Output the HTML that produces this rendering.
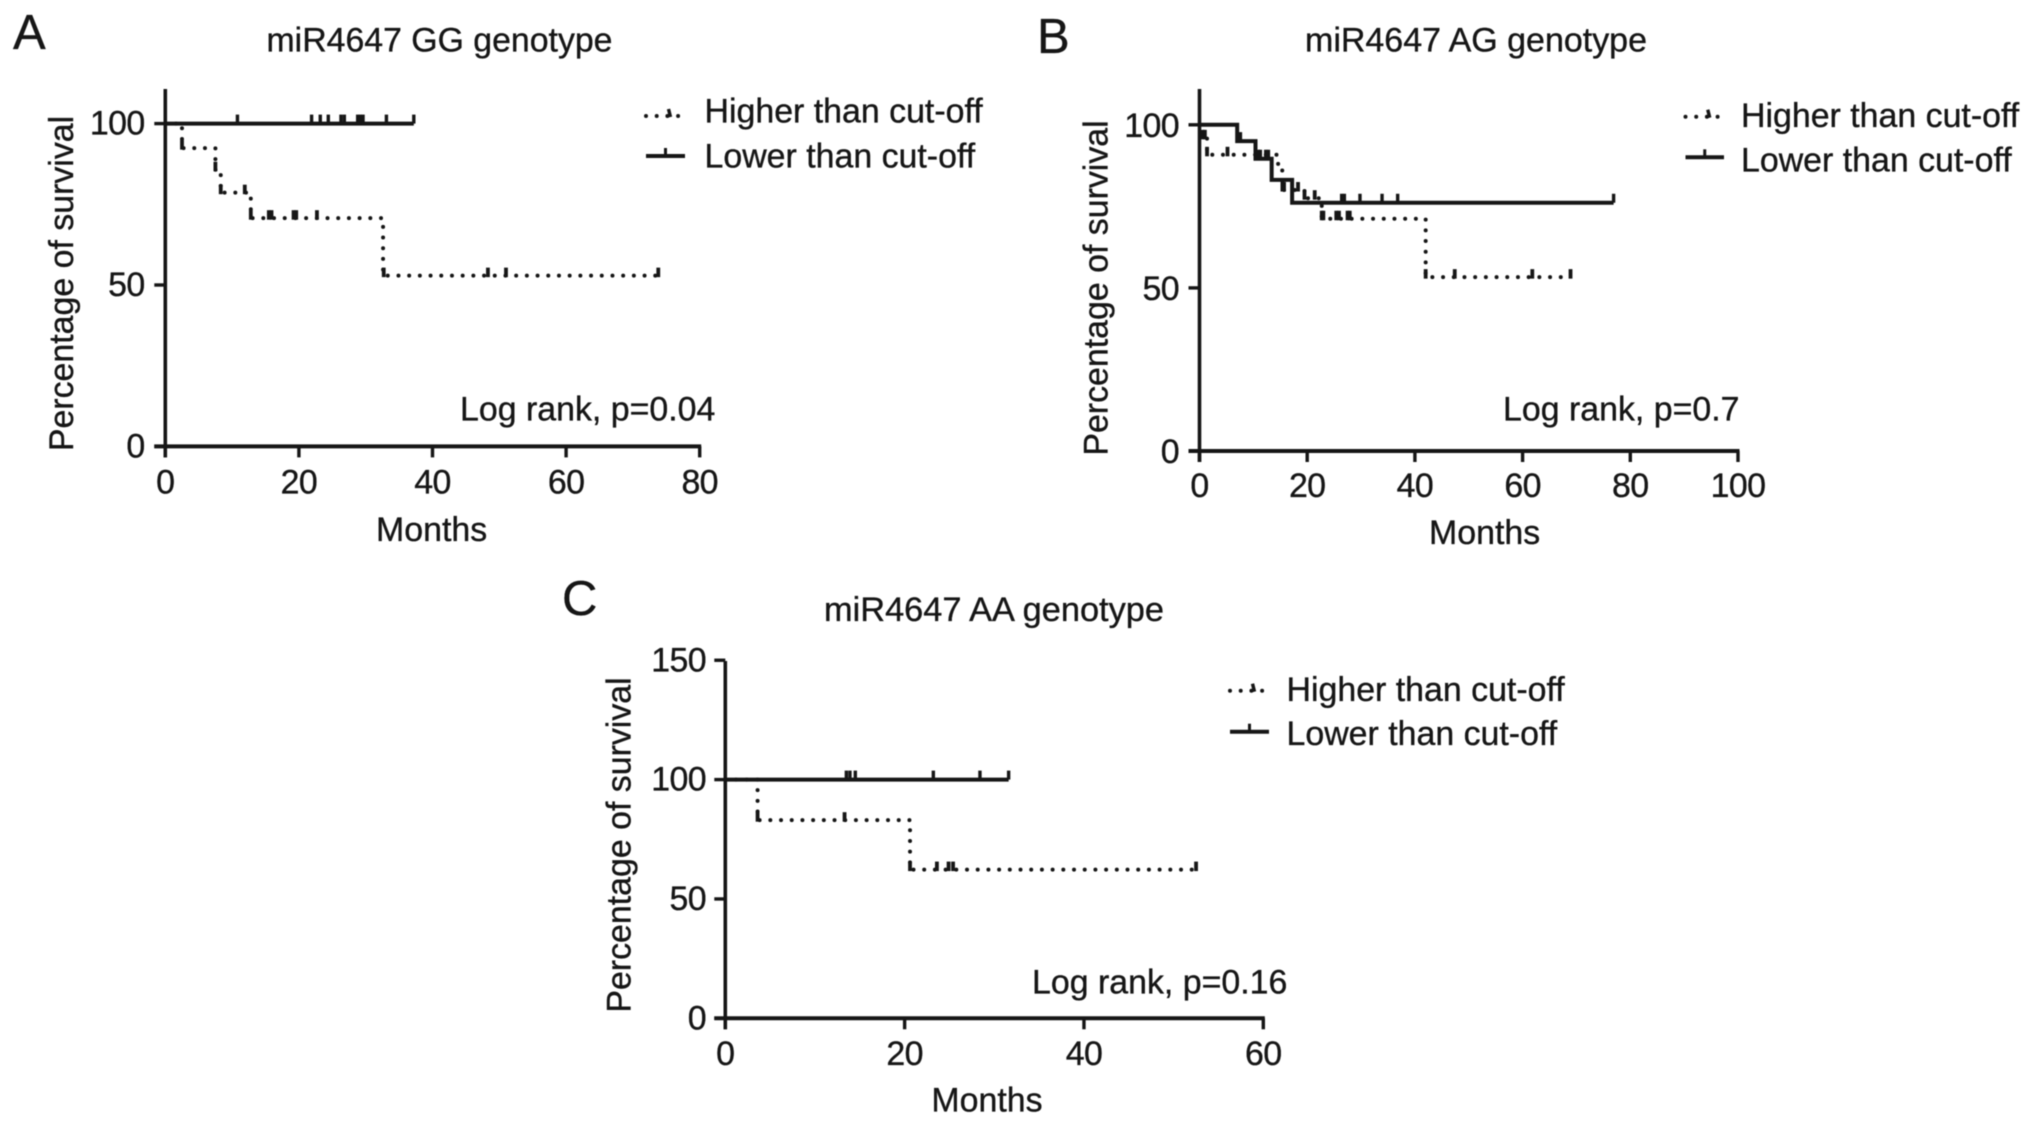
<!DOCTYPE html>
<html lang="en">
<head>
<meta charset="utf-8">
<title>miR4647 survival by genotype</title>
<style>
html,body{margin:0;padding:0;background:#fff;width:2032px;height:1125px;overflow:hidden}
svg{display:block;filter:blur(0.65px)}
text{font-family:"Liberation Sans",Arial,sans-serif;fill:#161616;stroke:#161616;stroke-width:0.35px;font-size:33.9px}
.letter{font-size:49px}
.tick-label{letter-spacing:-0.6px}
</style>
</head>
<body>
<svg id="figure" xmlns="http://www.w3.org/2000/svg" width="2032" height="1125" viewBox="0 0 2032 1125">
  <rect width="2032" height="1125" fill="#fff"/>

  <text class="letter" x="13" y="49">A</text>
  <text x="266.5" y="51.5" textLength="346" lengthAdjust="spacingAndGlyphs">miR4647 GG genotype</text>
  <text transform="translate(73,283.5) rotate(-90)" text-anchor="middle">Percentage of survival</text>
  <text x="431.6" y="541" text-anchor="middle">Months</text>
  <text x="460" y="420.7">Log rank, p=0.04</text>
  <text x="704.5" y="122.5">Higher than cut-off</text>
  <text x="704.5" y="167.3">Lower than cut-off</text>

  <text class="letter" x="1037" y="53">B</text>
  <text x="1305" y="51.5" textLength="342" lengthAdjust="spacingAndGlyphs">miR4647 AG genotype</text>
  <text transform="translate(1107.5,288) rotate(-90)" text-anchor="middle">Percentage of survival</text>
  <text x="1484.6" y="544" text-anchor="middle">Months</text>
  <text x="1503" y="420.7">Log rank, p=0.7</text>
  <text x="1741" y="127">Higher than cut-off</text>
  <text x="1741" y="171.7">Lower than cut-off</text>

  <text class="letter" x="562" y="615">C</text>
  <text x="824" y="620.8" textLength="340" lengthAdjust="spacingAndGlyphs">miR4647 AA genotype</text>
  <text transform="translate(630.5,845) rotate(-90)" text-anchor="middle">Percentage of survival</text>
  <text x="987" y="1111.7" text-anchor="middle">Months</text>
  <text x="1032" y="993.3">Log rank, p=0.16</text>
  <text x="1286.5" y="701">Higher than cut-off</text>
  <text x="1286.5" y="745">Lower than cut-off</text>
</svg>
<script>
// Panel A data (months / percent survival)
const aXTicks = [0, 20, 40, 60, 80];
const aYTicks = [0, 50, 100];
const aHighTimes = [0, 2.5, 7.5, 8.3, 12.8, 32.6, 73.9];
const aHighSurvival = [100, 92.4, 85.7, 78.6, 70.7, 52.9, 52.9];
const aHighCensor = [2.5, 7.5, 8.3, 11.9, 12.8, 15.5, 15.9, 19.2, 19.6, 22.7, 32.7, 48.3, 51, 73.8];
const aLowTimes = [0, 37.2];
const aLowSurvival = [100, 100];
const aLowCensor = [10.8, 21.9, 23.2, 24.4, 26.3, 26.8, 28.8, 29.2, 29.6, 33.1, 37.2];

// Panel B data
const bXTicks = [0, 20, 40, 60, 80, 100];
const bYTicks = [0, 50, 100];
const bHighTimes = [0, 0.6, 1.4, 14.6, 15.4, 19.5, 22.7, 42, 68.9];
const bHighSurvival = [100, 96, 90.8, 86, 80, 77.5, 71.2, 53.3, 53.3];
const bHighCensor = [0.6, 1, 1.4, 5.2, 15.4, 15.7, 18.3, 19.5, 21.4, 22.7, 23, 25.4, 25.9, 27.5, 27.9, 42, 47.4, 61.8, 68.9];
const bLowTimes = [0, 7, 10.4, 13.4, 17.2, 76.9];
const bLowSurvival = [100, 95, 89.6, 83.1, 76.1, 76.1];
const bLowCensor = [7, 7.6, 10.9, 11.3, 12.3, 12.8, 26.4, 26.9, 29.8, 33.9, 36.8, 76.9];

// Panel C data
const cXTicks = [0, 20, 40, 60];
const cYTicks = [0, 50, 100, 150];
const cHighTimes = [0, 3.6, 20.6, 52.5];
const cHighSurvival = [100, 83, 62.3, 62.3];
const cHighCensor = [3.6, 13.3, 20.6, 23.6, 24.9, 25.4, 52.5];
const cLowTimes = [0, 31.6];
const cLowSurvival = [100, 100];
const cLowCensor = [13.5, 13.9, 14.5, 23.2, 28.4, 31.6];

const NS = 'http://www.w3.org/2000/svg';
const root = document.getElementById('figure');
const INK = '#161616';

function addLine(x1, y1, x2, y2, w, name) {
  const el = document.createElementNS(NS, 'line');
  el.setAttribute('x1', x1);
  el.setAttribute('y1', y1);
  el.setAttribute('x2', x2);
  el.setAttribute('y2', y2);
  el.setAttribute('stroke', INK);
  el.setAttribute('stroke-width', w);
  
  
  root.appendChild(el);
  return el;
}

function addLabel(x, y, str, anchor, name) {
  const el = document.createElementNS(NS, 'text');
  el.setAttribute('x', x);
  el.setAttribute('y', y);
  el.setAttribute('text-anchor', anchor);
  el.setAttribute('class', 'tick-label');
  el.textContent = str;
  
  
  root.appendChild(el);
  return el;
}

function addStepPath(d, dotted, name) {
  const el = document.createElementNS(NS, 'path');
  el.setAttribute('d', d);
  el.setAttribute('fill', 'none');
  el.setAttribute('stroke', INK);
  if (dotted) {
    el.setAttribute('stroke-width', '4');
    el.setAttribute('stroke-linecap', 'round');
    el.setAttribute('stroke-dasharray', '0 10.7');
  } else {
    el.setAttribute('stroke-width', '4');
    el.setAttribute('stroke-linejoin', 'miter');
  }
  
  
  root.appendChild(el);
  return el;
}

function levelAt(times, values, t) {
  let v = values[0];
  for (let i = 0; i < times.length; i++) {
    if (times[i] <= t) v = values[i];
  }
  return v;
}

function stepD(times, values, sx, sy) {
  let d = 'M' + sx(times[0]) + ' ' + sy(values[0]);
  for (let i = 1; i < times.length; i++) {
    d += ' H' + sx(times[i]) + ' V' + sy(values[i]);
  }
  return d;
}

function drawPanel(p) {
  const xMax = p.xTicks[p.xTicks.length - 1];
  const sx = m => p.x0 + m * (p.x1 - p.x0) / xMax;
  const sy = v => p.y0 + v * (p.y100 - p.y0) / 100;

  addLine(p.x0, p.top, p.x0, p.y0 + 11, 3.6, p.id + '-y-axis-line');
  addLine(p.x0 - 11, p.y0, p.x1 + 1.5, p.y0, 4, p.id + '-x-axis-line');

  p.yTicks.forEach(v => {
    addLine(p.x0 - 11, sy(v), p.x0, sy(v), 3.4, p.id + '-y-tick-' + v);
    addLabel(p.yLabelRight, sy(v) + p.yLabelDrop, String(v), 'end', p.id + '-y-tick-label-' + v);
  });
  p.xTicks.forEach(v => {
    addLine(sx(v), p.y0, sx(v), p.y0 + 11, 3.4, p.id + '-x-tick-' + v);
    addLabel(sx(v), p.xLabelY, String(v), 'middle', p.id + '-x-tick-label-' + v);
  });

  addStepPath(stepD(p.highT, p.highS, sx, sy), true, p.id + '-higher-curve');
  p.highC.forEach(t => {
    const y = sy(levelAt(p.highT, p.highS, t));
    addLine(sx(t), y - 8, sx(t), y + 1.5, 3.8, p.id + '-higher-censor-mark');
  });

  addStepPath(stepD(p.lowT, p.lowS, sx, sy), false, p.id + '-lower-curve');
  p.lowC.forEach(t => {
    const y = sy(levelAt(p.lowT, p.lowS, t));
    addLine(sx(t), y - 9, sx(t), y, 3.4, p.id + '-lower-censor-mark');
  });

  // legend samples
  const lg = p.legend;
  addStepPath('M' + lg.x1 + ' ' + lg.yHigh + ' H' + lg.x2, true, p.id + '-legend-higher-sample');
  addLine((lg.x1 + lg.x2) / 2 + 3, lg.yHigh - 7, (lg.x1 + lg.x2) / 2 + 5, lg.yHigh + 1, 3.4, p.id + '-legend-higher-censor');
  addLine(lg.x1, lg.yLow, lg.x2, lg.yLow, 4, p.id + '-legend-lower-sample');
  addLine((lg.x1 + lg.x2) / 2, lg.yLow - 8, (lg.x1 + lg.x2) / 2, lg.yLow, 3, p.id + '-legend-lower-censor');
}

drawPanel({
  id: 'panel-a', x0: 165.3, x1: 699.7, y0: 446.4, y100: 123.6, top: 89,
  yLabelRight: 144.6, yLabelDrop: 11, xLabelY: 493.6,
  xTicks: aXTicks, yTicks: aYTicks,
  highT: aHighTimes, highS: aHighSurvival, highC: aHighCensor,
  lowT: aLowTimes, lowS: aLowSurvival, lowC: aLowCensor,
  legend: { x1: 646, x2: 685, yHigh: 116, yLow: 156 }
});
drawPanel({
  id: 'panel-b', x0: 1199.5, x1: 1738, y0: 451, y100: 124.8, top: 89,
  yLabelRight: 1179, yLabelDrop: 12, xLabelY: 497,
  xTicks: bXTicks, yTicks: bYTicks,
  highT: bHighTimes, highS: bHighSurvival, highC: bHighCensor,
  lowT: bLowTimes, lowS: bLowSurvival, lowC: bLowCensor,
  legend: { x1: 1685.5, x2: 1724, yHigh: 116.7, yLow: 157.3 }
});
drawPanel({
  id: 'panel-c', x0: 725.3, x1: 1263.3, y0: 1018.3, y100: 779.6, top: 661,
  yLabelRight: 706, yLabelDrop: 11, xLabelY: 1065,
  xTicks: cXTicks, yTicks: cYTicks,
  highT: cHighTimes, highS: cHighSurvival, highC: cHighCensor,
  lowT: cLowTimes, lowS: cLowSurvival, lowC: cLowCensor,
  legend: { x1: 1230, x2: 1269, yHigh: 690.7, yLow: 731.7 }
});
</script>
</body>
</html>
